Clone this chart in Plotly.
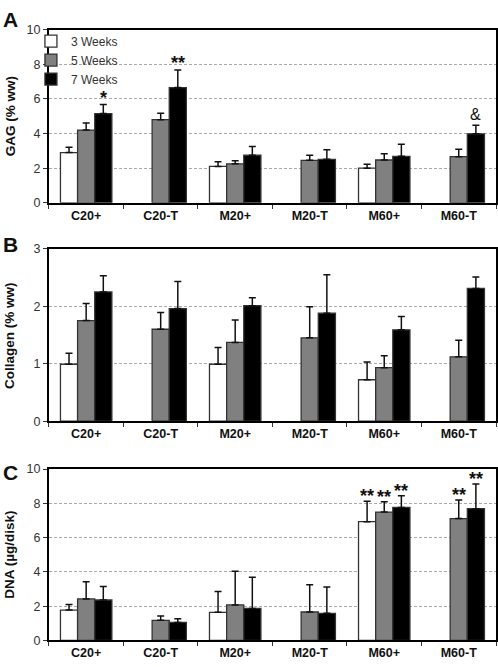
import plotly.graph_objects as go

W, H = 498, 667

categories = ["C20+", "C20-T", "M20+", "M20-T", "M60+", "M60-T"]
series_names = ["3 Weeks", "5 Weeks", "7 Weeks"]

# Panel A: GAG (% ww)
gag_3 = [2.9, None, 2.1, None, 2.0, None]
gag_3_err = [0.3, None, 0.27, None, 0.23, None]
gag_5 = [4.2, 4.8, 2.25, 2.45, 2.47, 2.66]
gag_5_err = [0.4, 0.37, 0.17, 0.3, 0.36, 0.43]
gag_7 = [5.15, 6.65, 2.75, 2.51, 2.68, 3.98]
gag_7_err = [0.52, 1.02, 0.5, 0.55, 0.7, 0.49]

# Panel B: Collagen (% ww)
col_3 = [0.99, None, 0.99, None, 0.72, None]
col_3_err = [0.19, None, 0.29, None, 0.31, None]
col_5 = [1.75, 1.6, 1.37, 1.45, 0.93, 1.12]
col_5_err = [0.3, 0.29, 0.39, 0.54, 0.21, 0.29]
col_7 = [2.25, 1.96, 2.01, 1.88, 1.59, 2.31]
col_7_err = [0.28, 0.47, 0.14, 0.67, 0.23, 0.2]

# Panel C: DNA (ug/disk)
dna_3 = [1.77, None, 1.64, None, 6.93, None]
dna_3_err = [0.33, None, 1.21, None, 1.2, None]
dna_5 = [2.42, 1.17, 2.07, 1.66, 7.49, 7.11]
dna_5_err = [1.0, 0.26, 1.97, 1.59, 0.61, 1.08]
dna_7 = [2.36, 1.05, 1.87, 1.58, 7.76, 7.69]
dna_7_err = [0.78, 0.21, 1.82, 1.54, 0.68, 1.44]

panels = [
    dict(title="GAG (% ww)", letter="A", data=[(gag_3, gag_3_err), (gag_5, gag_5_err), (gag_7, gag_7_err)],
         yrange=[0, 10], dtick=2, top=23, bottom=200, letter_y=-1, star_shift=-4),
    dict(title="Collagen (% ww)", letter="B", data=[(col_3, col_3_err), (col_5, col_5_err), (col_7, col_7_err)],
         yrange=[0, 3], dtick=1, top=247, bottom=423, letter_y=229, star_shift=-2),
    dict(title="DNA (µg/disk)", letter="C", data=[(dna_3, dna_3_err), (dna_5, dna_5_err), (dna_7, dna_7_err)],
         yrange=[0, 10], dtick=2, top=472, bottom=647, letter_y=462, star_shift=-6),
]

# significance markers: (panel index, category, series index, symbol)
markers = [
    (0, "C20+", 2, "*"),
    (0, "C20-T", 2, "**"),
    (0, "M60-T", 2, "&"),
    (2, "M60+", 0, "**"),
    (2, "M60+", 1, "**"),
    (2, "M60+", 2, "**"),
    (2, "M60-T", 1, "**"),
    (2, "M60-T", 2, "**"),
]

fill_colors = ["#ffffff", "#808080", "#000000"]
FONT = "Liberation Sans, Arial, sans-serif"

fig = go.Figure()
layout = dict(
    width=W, height=H,
    margin=dict(l=0, r=0, t=0, b=0),
    paper_bgcolor="white", plot_bgcolor="white",
    barmode="group", bargap=0.31, bargroupgap=0,
    font=dict(family=FONT, color="#222"),
    showlegend=True,
    legend=dict(x=31 / W, y=1 - 20 / H, xanchor="left", yanchor="top",
                bgcolor="rgba(0,0,0,0)", font=dict(size=12, color="#333", family=FONT),
                itemclick=False),
)

x0, x1 = 49 / W, 497 / W
annotations = []
for i, p in enumerate(panels):
    ax = "" if i == 0 else str(i + 1)
    for s, ((vals, errs), name) in enumerate(zip(p["data"], series_names)):
        fig.add_trace(go.Bar(
            x=categories, y=vals, name=name,
            marker=dict(color=fill_colors[s], line=dict(color="#333", width=1.3)),
            error_y=dict(type="data", array=errs, arrayminus=[0] * len(errs), symmetric=False,
                         color="#111", thickness=1.5, width=3.5),
            showlegend=(i == 0), hoverinfo="skip",
            xaxis="x" + ax, yaxis="y" + ax,
        ))
    dom = [1 - p["bottom"] / H, 1 - p["top"] / H]
    layout["xaxis" + ax] = dict(
        domain=[x0, x1], anchor="y" + ax, type="category",
        showline=True, linecolor="black", linewidth=2, mirror=True,
        ticks="outside", ticklen=4, tickcolor="#333", tickson="boundaries",
        tickfont=dict(size=12.5, color="#111", family=FONT, weight="bold"),
        showgrid=False, fixedrange=True,
    )
    layout["yaxis" + ax] = dict(
        domain=dom, anchor="x" + ax, range=p["yrange"], dtick=p["dtick"],
        showline=True, linecolor="black", linewidth=2, mirror=True,
        ticks="outside", ticklen=4, tickcolor="#333",
        tickfont=dict(size=12.5, color="#333", family=FONT),
        showgrid=True, gridcolor="#aaaaaa", gridwidth=1, griddash="3px,2px",
        zeroline=False, fixedrange=True,
    )
    annotations.append(dict(
        text="<b>" + p["title"] + "</b>", textangle=-90,
        x=10 / W, y=1 - (p["top"] + p["bottom"]) / 2 / H, xref="paper", yref="paper",
        xanchor="center", yanchor="middle", showarrow=False,
        font=dict(size=13.5, color="#111", family=FONT),
    ))
    annotations.append(dict(
        text="<b>" + p["letter"] + "</b>",
        x=1 / W, y=1 - p["letter_y"] / H, xref="paper", yref="paper",
        xanchor="left", yanchor="top", showarrow=False,
        font=dict(size=21, color="#111", family=FONT),
    ))

for (pi, cat, si, sym) in markers:
    p = panels[pi]
    vals, errs = p["data"][si]
    k = categories.index(cat)
    top = vals[k] + errs[k]
    ax = "" if pi == 0 else str(pi + 1)
    is_star = "*" in sym
    annotations.append(dict(
        text=("<b>" + sym + "</b>") if is_star else sym,
        x=cat, y=top, xref="x" + ax, yref="y" + ax,
        xanchor="center", yanchor="bottom", showarrow=False, borderpad=0,
        xshift=(si - 1) * 17, yshift=p["star_shift"] if is_star else 1,
        font=dict(size=18 if is_star else 16, color="#111", family=FONT),
    ))

layout["annotations"] = annotations
fig.update_layout(**layout)
fig.write_html(
    "out.html",
    config={"displayModeBar": False, "staticPlot": True},
    post_script="document.body.style.margin='0px';document.body.style.padding='0px';"
                "document.documentElement.style.overflow='hidden';",
)
